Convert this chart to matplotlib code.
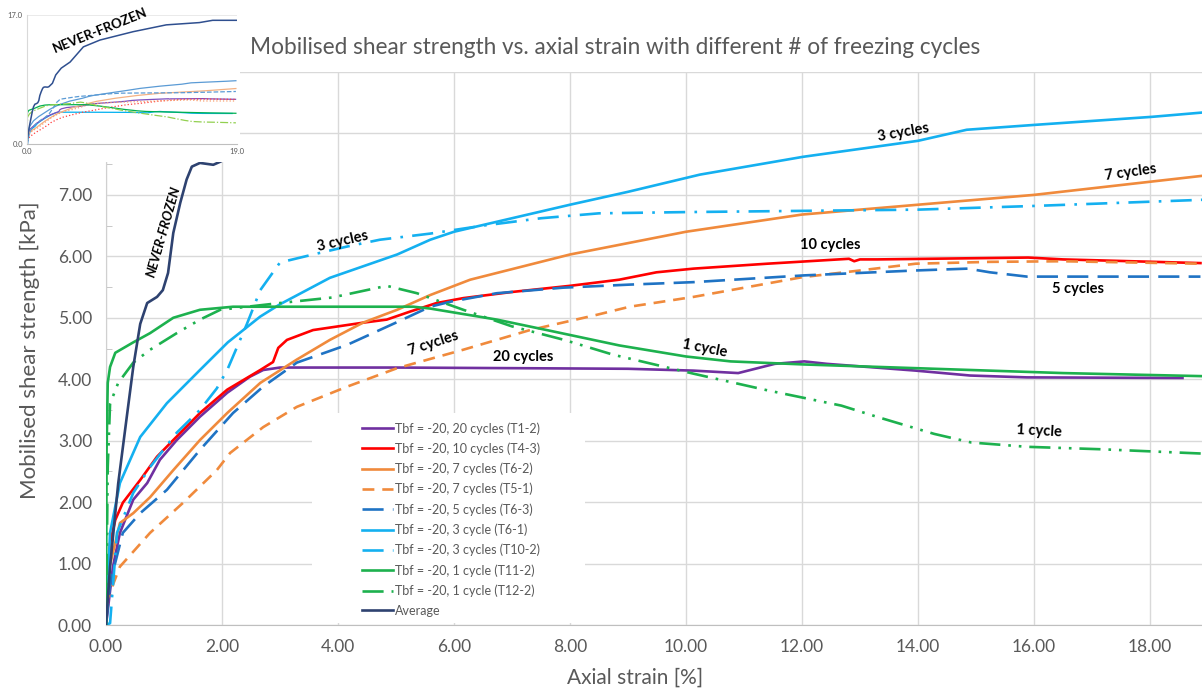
import matplotlib
matplotlib.use("Agg")
import matplotlib.pyplot as plt
from matplotlib.patches import Rectangle

plt.rcParams['font.family'] = ['Lato', 'DejaVu Sans']

# --- data (axial strain %, shear strength kPa) ---
t1_2_x = [0, 0.12, 0.24, 0.47, 0.71, 0.93, 1.22, 1.62, 2.09, 2.48, 2.71, 3.0, 5.0, 7.0, 9.0,
          10.13, 10.9, 11.53, 12.04, 12.43, 13.96, 14.9, 15.88, 18.56]
t1_2_y = [0, 0.95, 1.5, 2.04, 2.31, 2.69, 3.01, 3.39, 3.78, 4.04, 4.15, 4.19, 4.19, 4.18, 4.17,
          4.14, 4.10, 4.25, 4.29, 4.25, 4.14, 4.06, 4.03, 4.02]

t4_3_x = [0, 0.03, 0.07, 0.16, 0.29, 0.59, 0.88, 1.16, 1.62, 2.09, 2.66, 2.88, 2.97, 3.12, 3.57,
          4.43, 4.84, 5.24, 5.7, 6.16, 7.0, 8.0, 8.85, 9.49, 10.13, 11.4, 12.81, 12.9, 13.0, 13.3,
          15.9, 16.5, 18.87]
t4_3_y = [0, 0.7, 1.33, 1.71, 1.99, 2.36, 2.74, 3.01, 3.45, 3.83, 4.15, 4.28, 4.51, 4.64, 4.8,
          4.92, 4.97, 5.1, 5.24, 5.32, 5.42, 5.52, 5.62, 5.74, 5.80, 5.88, 5.96, 5.92, 5.95, 5.95,
          5.98, 5.95, 5.89]

t6_2_x = [0, 0.05, 0.24, 0.47, 0.76, 1.16, 1.62, 2.09, 2.66, 3.29, 3.86, 4.43, 5.02, 5.59, 6.28,
          8.0, 10.0, 12.0, 14.0, 16.0, 18.9]
t6_2_y = [0, 0.9, 1.66, 1.82, 2.08, 2.52, 3.01, 3.45, 3.94, 4.32, 4.64, 4.92, 5.13, 5.37, 5.62,
          6.03, 6.4, 6.68, 6.84, 7.0, 7.31]

t5_1_x = [0, 0.02, 0.24, 0.76, 1.33, 1.91, 2.14, 2.71, 3.29, 4.16, 5.02, 6.16, 7.31, 8.47, 9.03,
          10.13, 12.0, 13.0, 13.96, 15.24, 16.5, 18.87]
t5_1_y = [0, 0.41, 0.95, 1.5, 1.99, 2.52, 2.8, 3.22, 3.55, 3.88, 4.18, 4.48, 4.8, 5.05, 5.18,
          5.34, 5.66, 5.77, 5.88, 5.91, 5.92, 5.88]

t6_3_x = [0, 0.07, 0.29, 0.59, 1.05, 1.62, 2.19, 2.71, 3.29, 4.16, 5.02, 5.59, 5.93, 6.74, 7.88,
          9.03, 10.13, 12.04, 13.96, 14.86, 15.24, 15.88, 18.87]
t6_3_y = [0, 0.68, 1.5, 1.82, 2.2, 2.85, 3.45, 3.88, 4.27, 4.56, 4.93, 5.18, 5.26, 5.4, 5.49,
          5.54, 5.58, 5.69, 5.77, 5.8, 5.74, 5.67, 5.67]

t6_1_x = [0, 0.07, 0.24, 0.59, 1.05, 1.62, 2.1, 2.66, 3.0, 3.86, 5.02, 5.59, 6.0, 7.0, 8.0, 9.0,
          10.24, 12.02, 14.0, 14.84, 16.02, 18.03, 18.9]
t6_1_y = [0, 1.5, 2.31, 3.06, 3.61, 4.15, 4.6, 5.02, 5.22, 5.65, 6.03, 6.27, 6.4, 6.62, 6.84, 7.05,
          7.33, 7.62, 7.88, 8.06, 8.14, 8.27, 8.34]

t10_2_x = [0, 0.07, 0.19, 0.47, 0.76, 1.22, 1.62, 1.91, 2.09, 2.43, 2.66, 3.0, 3.57, 4.16, 4.72,
           5.59, 6.5, 7.5, 8.5, 10.0, 12.0, 14.0, 16.0, 18.9]
t10_2_y = [0, 0.03, 1.5, 2.15, 2.57, 3.13, 3.5, 3.85, 4.15, 4.9, 5.45, 5.9, 6.03, 6.16, 6.27,
           6.37, 6.5, 6.62, 6.7, 6.72, 6.74, 6.76, 6.82, 6.92]

t11_2_x = [0, 0.01, 0.03, 0.07, 0.16, 0.47, 0.76, 1.16, 1.62, 2.19, 5.3, 5.59, 6.74, 7.6, 8.85,
           10.0, 10.77, 12.04, 13.96, 16.5, 18.9]
t11_2_y = [0, 2.85, 3.94, 4.2, 4.43, 4.6, 4.75, 5.0, 5.13, 5.18, 5.18, 5.15, 4.97, 4.8, 4.55,
           4.37, 4.29, 4.24, 4.18, 4.1, 4.05]

t12_2_x = [0, 0.03, 0.07, 0.21, 0.47, 0.76, 1.22, 1.62, 1.97, 3.0, 3.9, 4.84, 5.36, 6.16, 7.0,
           7.9, 8.74, 10.13, 11.4, 12.68, 13.32, 14.28, 14.92, 15.88, 17.16, 18.9]
t12_2_y = [0, 2.57, 3.6, 3.94, 4.27, 4.48, 4.75, 4.97, 5.13, 5.24, 5.33, 5.52, 5.4, 5.13, 4.86,
           4.64, 4.4, 4.09, 3.82, 3.57, 3.38, 3.11, 2.97, 2.9, 2.86, 2.79]

# never-frozen average (full curve is only visible in the small inset)
avg_x = [0, 0.07, 0.21, 0.36, 0.47, 0.59, 0.71, 0.88, 0.98, 1.07, 1.16, 1.28, 1.39, 1.48, 1.62,
         1.85, 1.97, 2.3, 2.6, 3.1, 3.9, 5.1, 6.6, 9.6, 12.6, 15.6, 16.8, 19.0]
avg_y = [0, 0.95, 2.3, 3.4, 4.2, 4.9, 5.24, 5.34, 5.45, 5.73, 6.38, 6.87, 7.25, 7.46, 7.52,
         7.49, 7.54, 8.0, 9.1, 10.0, 10.8, 12.8, 13.7, 14.8, 15.7, 16.0, 16.3, 16.3]
n_visible = 17

series = [
    ("Tbf = -20, 20 cycles (T1-2)", t1_2_x, t1_2_y, "#7030A0", "-"),
    ("Tbf = -20, 10 cycles (T4-3)", t4_3_x, t4_3_y, "#FF0000", "-"),
    ("Tbf = -20, 7 cycles (T6-2)", t6_2_x, t6_2_y, "#F08A3C", "-"),
    ("Tbf = -20, 7 cycles (T5-1)", t5_1_x, t5_1_y, "#F08A3C", (0, (4.5, 3))),
    ("Tbf = -20, 5 cycles (T6-3)", t6_3_x, t6_3_y, "#1F73C4", (0, (8, 3.5))),
    ("Tbf = -20, 3 cycle (T6-1)", t6_1_x, t6_1_y, "#14B0F0", "-"),
    ("Tbf = -20, 3 cycles (T10-2)", t10_2_x, t10_2_y, "#14B0F0", (0, (8, 3.5, 1, 3.5))),
    ("Tbf = -20, 1 cycle (T11-2)", t11_2_x, t11_2_y, "#1DB14E", "-"),
    ("Tbf = -20, 1 cycle (T12-2)", t12_2_x, t12_2_y, "#1DB14E", (0, (8, 3, 1, 3, 1, 3))),
]

# inset colours (older version of the chart)
inset_style = [("#00B0F0", "-"), ("#7F4FBF", "-"), ("#F4B183", "-"), ("#FF4040", ":"),
               ("#F8A070", ":"), ("#5B9BD5", "-"), ("#5B9BD5", "--"), ("#00B050", "-"),
               ("#92D050", "-.")]

labels = [("NEVER-FROZEN", 1.0, 6.4, 74, True),
          ("3 cycles", 4.09, 6.24, 13, False),
          ("3 cycles", 13.74, 8.01, 10, False),
          ("7 cycles", 17.66, 7.36, 8, False),
          ("10 cycles", 12.48, 6.19, 0, False),
          ("5 cycles", 16.76, 5.47, 0, False),
          ("1 cycle", 10.33, 4.5, -11, False),
          ("1 cycle", 16.09, 3.16, -3, False),
          ("7 cycles", 5.64, 4.59, 18, False),
          ("20 cycles", 7.19, 4.36, 0, False)]

grey = "#595959"

fig = plt.figure(figsize=(12.02, 6.9), dpi=100)
ax = fig.add_axes([106 / 1202, 65 / 690, 1160 / 1202, 553 / 690])

for name, x, y, c, ls in series:
    ax.plot(x, y, color=c, linestyle=ls, lw=1.9, label=name, zorder=3)
ax.plot(avg_x[:n_visible], avg_y[:n_visible], color="#2E4270", lw=1.9, label="Average", zorder=3)

for txt, x, y, rot, italic in labels:
    ax.text(x, y, txt, rotation=rot, ha="center", va="center", fontsize=10.5 if not italic else 9.5,
            fontweight="bold", fontstyle="italic" if italic else "normal", color="black", zorder=4)

ax.set_xlim(0, 20)
ax.set_ylim(0, 9)
ax.set_xticks(range(0, 20, 2))
ax.set_xticklabels([f"{v:.2f}" for v in range(0, 20, 2)])
ax.set_yticks(range(0, 10))
ax.set_yticklabels([f"{v:.2f}" for v in range(0, 10)])
ax.set_yticks([v + 0.5 for v in range(0, 9)], minor=True)
ax.tick_params(axis="both", labelsize=12.5, labelcolor=grey, length=0, pad=10)
ax.tick_params(axis="y", which="minor", length=4, direction="in", color="#BFBFBF")
ax.grid(True, color="#D9D9D9", lw=1)
ax.set_axisbelow(True)
for s in ["top", "right"]:
    ax.spines[s].set_visible(False)
ax.spines["left"].set_color("#D0D0D0")
ax.spines["bottom"].set_color("#BFBFBF")

# white panel behind legend (covers the grid)
ax.add_patch(Rectangle((312 / 1202, 67 / 690), 273 / 1202, 210 / 690, transform=fig.transFigure,
                       facecolor="white", edgecolor="none", zorder=1))
leg = ax.legend(loc="upper left", bbox_to_anchor=(357 / 1202, 1 - 417 / 690),
                bbox_transform=fig.transFigure, frameon=False, fontsize=9,
                handlelength=2.5, handletextpad=0.15, labelspacing=0.62, borderaxespad=0)
for t in leg.get_texts():
    t.set_color(grey)

fig.text(635 / 1202, 1 - 678 / 690, "Axial strain [%]", ha="center", va="center",
         fontsize=15, color=grey)
fig.text(30 / 1202, 1 - 350 / 690, "Mobilised shear strength [kPa]", ha="center", va="center",
         rotation=90, fontsize=16, color=grey)
fig.text(615 / 1202, 1 - 47 / 690,
         "Mobilised shear strength vs. axial strain with different # of freezing cycles",
         ha="center", va="center", fontsize=16.3, color=grey)

# small overview inset in the top-left corner
fig.add_artist(Rectangle((0, 1 - 162 / 690), 240 / 1202, 162 / 690, transform=fig.transFigure,
                         facecolor="white", edgecolor="none", zorder=5))
ins = fig.add_axes([27 / 1202, 1 - 144 / 690, 210 / 1202, 129 / 690], zorder=6)
for (name, x, y, c, ls), (ic, ils) in zip(series, inset_style):
    ins.plot(x, y, color=ic, linestyle=ils, lw=0.9)
ins.plot(avg_x, avg_y, color="#2F4F8F", lw=1.1)
ins.text(6.6, 15.0, "NEVER-FROZEN", rotation=22, ha="center", va="center", fontsize=9.5,
         fontweight="bold", color="black")
ins.set_xlim(0, 19)
ins.set_ylim(0, 17)
ins.set_xticks([0, 19])
ins.set_xticklabels(["0.0", "19.0"])
ins.set_yticks([0, 17])
ins.set_yticklabels(["0.0", "17.0"])
ins.tick_params(labelsize=5.5, labelcolor=grey, length=0, pad=3)
ins.grid(True, color="#E6E6E6", lw=0.6)
for s in ["top", "right"]:
    ins.spines[s].set_visible(False)
ins.spines["left"].set_color("#D9D9D9")
ins.spines["bottom"].set_color("#BFBFBF")

fig.savefig("out.png", dpi=100)
